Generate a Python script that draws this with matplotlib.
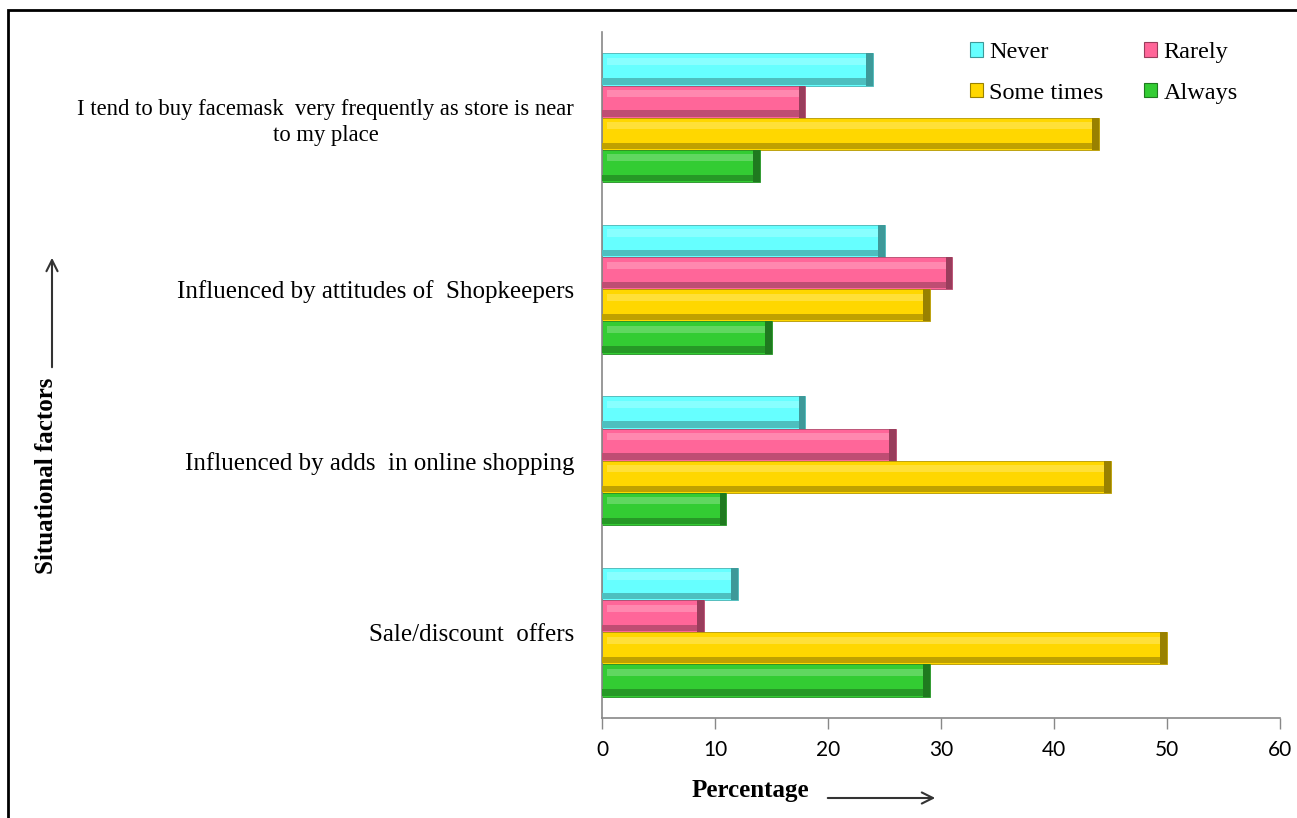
import numpy as np
import matplotlib as mpl
mpl.use("Agg")
import matplotlib.pyplot as plt
from matplotlib.patches import Rectangle, Patch
from matplotlib.colors import to_rgb

factors = ['I tend to buy facemask  very frequently as store is near\nto my place',
           'Influenced by attitudes of  Shopkeepers',
           'Influenced by adds  in online shopping',
           'Sale/discount  offers']
responses = ['Never', 'Rarely', 'Some times', 'Always']

never = [24, 25, 18, 12]
rarely = [18, 31, 26, 9]
sometimes = [44, 29, 45, 50]
always = [14, 15, 11, 29]

colors = ['#66ffff', '#ff6699', '#ffd700', '#33cc33']

serif = 'Liberation Serif'


def shade(c, f):
    r = np.array(to_rgb(c))
    if f > 0:
        return tuple(r + (1 - r) * f)
    return tuple(r * (1 + f))


fig = plt.figure(figsize=(12.97, 8.18), dpi=100)
ax = fig.add_axes([602 / 1297, 100 / 818, 678 / 1297, 686 / 818])

h = 0.1875
pos = np.arange(len(factors))
series = [never, rarely, sometimes, always]
for i, (vals, col) in enumerate(zip(series, colors)):
    y = pos - 1.5 * h + i * h
    vals = np.array(vals, dtype=float)
    # base bar
    ax.barh(y, vals, height=h, color=col, edgecolor=shade(col, -0.3), linewidth=0.6, zorder=2)
    # bevel: soft light band near the top, darker band underneath, darker end cap
    ax.barh(y - h * 0.25, vals - 0.8, left=0.4, height=h * 0.22,
            color=shade(col, 0.22), linewidth=0, zorder=3)
    ax.barh(y + h * 0.37, vals, height=h * 0.2,
            color=shade(col, -0.25), linewidth=0, zorder=3)
    ax.barh(y, np.full_like(vals, 0.6), left=vals - 0.6, height=h,
            color=shade(col, -0.4), linewidth=0, zorder=4)

ax.set_ylim(3.5, -0.5)
ax.set_xlim(0, 60)
ax.set_xticks(range(0, 61, 10))
ax.set_yticks(pos)
ax.set_yticklabels(factors, fontfamily=serif, fontsize=18, multialignment='center',
                   linespacing=1.3)
ax.get_yticklabels()[0].set_fontsize(16.3)
ax.tick_params(axis='y', length=0, pad=20)
ax.tick_params(axis='x', length=8, width=1, color='#888888', direction='out', pad=8, labelsize=15)
for lab in ax.get_xticklabels():
    lab.set_fontfamily('Lato')
for s in ['top', 'right']:
    ax.spines[s].set_visible(False)
for s in ['left', 'bottom']:
    ax.spines[s].set_color('#888888')
    ax.spines[s].set_linewidth(1.2)

# legend filled column by column, so order handles to read row-wise
order = [0, 2, 1, 3]
handles = [Patch(facecolor=colors[k], edgecolor=shade(colors[k], -0.4), linewidth=0.8) for k in order]
ax.legend(handles, [responses[k] for k in order], ncol=2, loc='upper right',
          bbox_to_anchor=(0.97, 1.017), frameon=False, prop={'family': serif, 'size': 17.5},
          handlelength=0.55, handleheight=0.55, handletextpad=0.25, columnspacing=1.67,
          labelspacing=0.8)

# axis titles with arrows
fig.text(750 / 1297, 1 - 790 / 818, 'Percentage', fontfamily=serif, fontsize=18,
         fontweight='bold', ha='center', va='center')
fig.add_artist(mpl.patches.FancyArrowPatch((825 / 1297, 1 - 798 / 818), (938 / 1297, 1 - 798 / 818),
                                           transform=fig.transFigure, arrowstyle='->',
                                           mutation_scale=20, color='#333333', lw=1.5))
fig.text(47 / 1297, 1 - 476 / 818, 'Situational factors', fontfamily=serif, fontsize=18,
         fontweight='bold', ha='center', va='center', rotation=90)
fig.add_artist(mpl.patches.FancyArrowPatch((52 / 1297, 1 - 370 / 818), (52 / 1297, 1 - 255 / 818),
                                           transform=fig.transFigure, arrowstyle='->',
                                           mutation_scale=20, color='#333333', lw=1.5))

# outer frame
fig.add_artist(Rectangle((8 / 1297, -0.05), 1.1, 1 - 10 / 818 + 0.05, transform=fig.transFigure,
                         fill=False, edgecolor='black', linewidth=2))

fig.savefig('out.png', dpi=100)
